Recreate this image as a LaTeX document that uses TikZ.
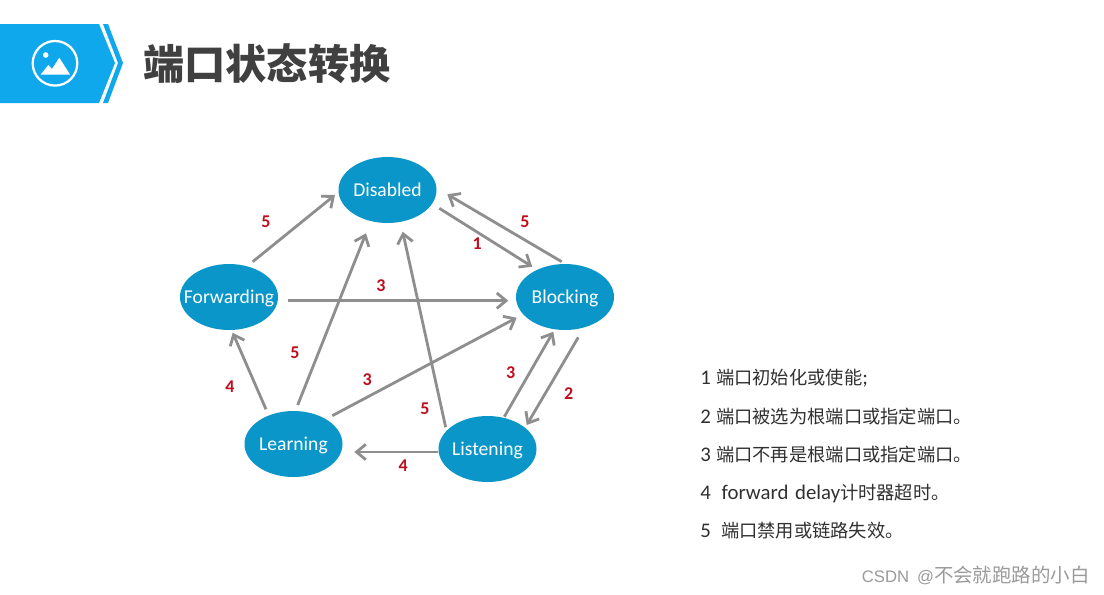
\documentclass[tikz,border=0pt]{standalone}
\usepackage{fontspec}
\usetikzlibrary{arrows.meta,shapes.geometric}
\setmainfont{Carlito}
\newfontfamily\cjk{Noto Sans CJK SC}
\newfontfamily\arialish{Liberation Sans}
\newcommand{\zh}[1]{{\fontsize{13.7pt}{15pt}\selectfont\cjk #1}}
\definecolor{banner}{HTML}{10A8EC}
\definecolor{statefill}{HTML}{0A96C8}
\definecolor{arrowgray}{HTML}{8E8E8E}
\definecolor{numred}{HTML}{C00D1E}
\definecolor{titlegray}{HTML}{404040}
\definecolor{itemgray}{HTML}{303030}
\definecolor{markgray}{HTML}{9A9A9A}
\tikzset{
  state/.style={ellipse,fill=statefill,text=white,minimum width=98*0.75pt,minimum height=66*0.75pt,inner sep=-12pt,text height=9.6pt,text depth=0pt,font=\fontsize{14.7pt}{16pt}\selectfont},
  conn/.style={draw=arrowgray,line width=2.1pt,-{Straight Barb[length=7pt,width=11.5pt,line width=2.1pt]}},
  num/.style={text=numred,font=\fontsize{13.5pt}{15pt}\selectfont\bfseries,inner sep=0pt},
  item/.style={anchor=west,text=itemgray,inner sep=0pt,font=\fontsize{15.6pt}{17pt}\selectfont},
}
\begin{document}
\begin{tikzpicture}[x=0.75pt,y=-0.75pt]
\useasboundingbox (0,0) rectangle (1104,594);
% banner
\fill[banner] (0,24) -- (99,24) -- (115,63) -- (99,103) -- (0,103) -- cycle;
\fill[banner] (103,24) -- (108,24) -- (123,63) -- (108,103) -- (103,103) -- (118,63) -- cycle;
\draw[white,line width=1.7pt] (55,63.3) circle (22.3);
\fill[white] (45.7,55) circle (2.8);
\fill[white] (40.7,74.5) -- (48.3,65) -- (52,69) -- (59.3,57.7) -- (70,74.5) -- cycle;
\node[anchor=west,inner sep=0pt,text=titlegray] (title) at (143,63.5) {\fontsize{30.9pt}{34pt}\selectfont\cjk\bfseries 端口状态转换};
% states
\node[state] (D) at (387.5,190) {Disabled};
\node[state] (F) at (229,297) {Forwarding};
\node[state] (B) at (565,297) {Blocking};
\node[state] (L) at (293.5,444) {Learning};
\node[state] (Li) at (487.5,449) {Listening};
% connectors
\draw[conn] ([shift={(23.7,-35.3)}]F.center) -- ([shift={(-52.5,5)}]D.center);
\draw[conn] ([shift={(51.8,18.3)}]D.center) -- ([shift={(-32.7,-30.3)}]B.center);
\draw[conn] ([shift={(-3.3,-35.3)}]B.center) -- ([shift={(59.8,4.3)}]D.center);
\draw[conn] ([shift={(59.3,3.7)}]F.center) -- ([shift={(-56.7,3.7)}]B.center);
\draw[conn] ([shift={(-27.5,-34.7)}]L.center) -- ([shift={(3.7,35.7)}]F.center);
\draw[conn] ([shift={(4.2,-39)}]L.center) -- ([shift={(-21.5,43.3)}]D.center);
\draw[conn] ([shift={(38.8,-28.3)}]L.center) -- ([shift={(-48.3,20.7)}]B.center);
\draw[conn] ([shift={(-41.8,-21.7)}]Li.center) -- ([shift={(15.2,41.7)}]D.center);
\draw[conn] ([shift={(-49.2,3)}]Li.center) -- ([shift={(60.8,8)}]L.center);
\draw[conn] ([shift={(16.8,-32.3)}]Li.center) -- ([shift={(-11.7,34.7)}]B.center);
\draw[conn] ([shift={(13.3,40.3)}]B.center) -- ([shift={(39.2,-24)}]Li.center);
% numbers
\node[num] (n1) at (266,221.5) {5};
\node[num] (n2) at (477.3,243.5) {1};
\node[num] (n3) at (525,221.5) {5};
\node[num] (n4) at (381,285.5) {3};
\node[num] (n5) at (295,353) {5};
\node[num] (n6) at (230,387) {4};
\node[num] (n7) at (367.3,379.5) {3};
\node[num] (n8) at (425,408.5) {5};
\node[num] (n9) at (510.7,372.5) {3};
\node[num] (n10) at (568.7,393.5) {2};
\node[num] (n11) at (403.3,465.5) {4};
% legend
\node[item] (i1) at (700,378) {1\hspace{4pt}\zh{端口初始化或使能}{;}};
\node[item] (i2) at (700,416.5) {2\hspace{4pt}\zh{端口被选为根端口或指定端口。}};
\node[item] (i3) at (700,455) {3\hspace{4pt}\zh{端口不再是根端口或指定端口。}};
\node[item] (i4) at (700,493) {4\hspace{8.2pt}forward\hspace{5pt}delay\zh{计时器超时。}};
\node[item] (i5) at (700,531) {5\hspace{7.7pt}\zh{端口禁用或链路失效。}};
% watermark
\node[anchor=east,inner sep=0pt,text=markgray] (wm) at (1090,575) {{\fontsize{12.5pt}{17pt}\selectfont\arialish CSDN\hspace{6pt}@}{\fontsize{14.6pt}{17pt}\selectfont\cjk 不会就跑路的小白}};
\end{tikzpicture}
\end{document}
